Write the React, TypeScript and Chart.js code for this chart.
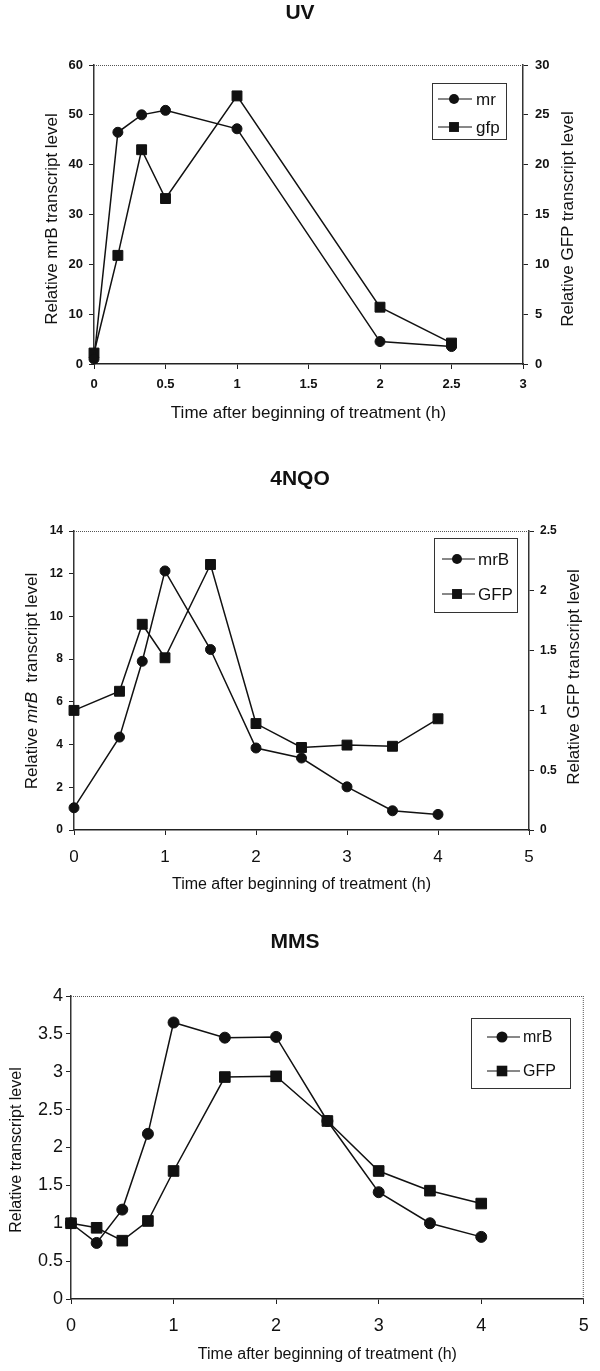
import { useEffect, useRef } from "react";
import { Chart, registerables } from "chart.js";

Chart.register(...registerables);

const FONT = '"Liberation Sans", Arial, Helvetica, sans-serif';
const INK = "#111";

// ---------- UV ----------
const uvTitle = "UV";
const uvTimes = [0, 0.167, 0.333, 0.5, 1, 2, 2.5];
const uvMr = [1.0, 46.5, 50.0, 50.9, 47.2, 4.5, 3.5];
const uvGfp = [1.1, 10.9, 21.5, 16.6, 26.9, 5.7, 2.1];
const uvLabels = ["mr", "gfp"];
const uvXTicks = [0, 0.5, 1, 1.5, 2, 2.5, 3];
const uvLeftTicks = [0, 10, 20, 30, 40, 50, 60];
const uvRightTicks = [0, 5, 10, 15, 20, 25, 30];
const uvLeftTitle = [{ text: "Relative mrB transcript level" }];
const uvRightTitle = [{ text: "Relative GFP transcript level" }];

// ---------- 4NQO ----------
const nqoTitle = "4NQO";
const nqoTimes = [0, 0.5, 0.75, 1, 1.5, 2, 2.5, 3, 3.5, 4];
const nqoMrb = [1.04, 4.35, 7.9, 12.13, 8.45, 3.84, 3.37, 2.02, 0.9, 0.73];
const nqoGfp = [1.0, 1.16, 1.72, 1.44, 2.22, 0.89, 0.69, 0.71, 0.7, 0.93];
const nqoLabels = ["mrB", "GFP"];
const nqoXTicks = [0, 1, 2, 3, 4, 5];
const nqoLeftTicks = [0, 2, 4, 6, 8, 10, 12, 14];
const nqoRightTicks = [0, 0.5, 1, 1.5, 2, 2.5];
const nqoLeftTitle = [
  { text: "Relative " },
  { text: "mrB", italic: true },
  { text: "  transcript level" },
];
const nqoRightTitle = [{ text: "Relative GFP transcript level" }];

// ---------- MMS ----------
const mmsTitle = "MMS";
const mmsTimes = [0, 0.25, 0.5, 0.75, 1, 1.5, 2, 2.5, 3, 3.5, 4];
const mmsMrb = [1.0, 0.74, 1.18, 2.18, 3.65, 3.45, 3.46, 2.35, 1.41, 1.0, 0.82];
const mmsGfp = [1.0, 0.94, 0.77, 1.03, 1.69, 2.93, 2.94, 2.35, 1.69, 1.43, 1.26];
const mmsLabels = ["mrB", "GFP"];
const mmsXTicks = [0, 1, 2, 3, 4, 5];
const mmsYTicks = [0, 0.5, 1, 1.5, 2, 2.5, 3, 3.5, 4];
const mmsLeftTitle = [{ text: "Relative transcript level" }];

const xTitleText = "Time after beginning of treatment (h)";

type Seg = { text: string; italic?: boolean };

const extrasPlugin = {
  id: "extras",
  afterDraw(chart: any, _args: any, opts: any) {
    const ctx: CanvasRenderingContext2D = chart.ctx;
    const ca = chart.chartArea;
    ctx.save();
    // dotted frame
    ctx.strokeStyle = "#555";
    ctx.lineWidth = 1;
    ctx.setLineDash([1, 1]);
    ctx.beginPath();
    if (opts.frameTop) {
      ctx.moveTo(ca.left, ca.top + 0.5);
      ctx.lineTo(ca.right, ca.top + 0.5);
    }
    if (opts.frameRight) {
      ctx.moveTo(ca.right - 0.5, ca.top);
      ctx.lineTo(ca.right - 0.5, ca.bottom);
    }
    ctx.stroke();
    ctx.setLineDash([]);

    // vertical titles (read bottom to top)
    for (const t of opts.yTitles || []) {
      ctx.save();
      ctx.translate(t.x, t.y);
      ctx.rotate(-Math.PI / 2);
      ctx.fillStyle = INK;
      ctx.textBaseline = "middle";
      ctx.textAlign = "left";
      const segs: Seg[] = t.segs;
      let total = 0;
      const widths = segs.map((s) => {
        ctx.font = `${s.italic ? "italic " : ""}${t.size}px ${FONT}`;
        const w = ctx.measureText(s.text).width;
        total += w;
        return w;
      });
      let x = -total / 2;
      segs.forEach((s, i) => {
        ctx.font = `${s.italic ? "italic " : ""}${t.size}px ${FONT}`;
        ctx.fillText(s.text, x, 0);
        x += widths[i];
      });
      ctx.restore();
    }

    // legend box
    const lg = opts.legend;
    if (lg) {
      ctx.fillStyle = "#fff";
      ctx.fillRect(lg.x, lg.y, lg.w, lg.h);
      ctx.strokeStyle = "#333";
      ctx.lineWidth = 1;
      ctx.strokeRect(lg.x + 0.5, lg.y + 0.5, lg.w, lg.h);
      chart.data.datasets.forEach((ds: any, i: number) => {
        const y = lg.rows[i];
        ctx.strokeStyle = ds.borderColor;
        ctx.lineWidth = 1;
        ctx.beginPath();
        ctx.moveTo(lg.lineX0, y);
        ctx.lineTo(lg.lineX1, y);
        ctx.stroke();
        ctx.fillStyle = ds.backgroundColor;
        ctx.beginPath();
        if (ds.pointStyle === "rect") {
          const h = ds.pointRadius * Math.SQRT1_2;
          ctx.rect(lg.markerX - h, y - h, 2 * h, 2 * h);
        } else {
          ctx.arc(lg.markerX, y, ds.pointRadius, 0, Math.PI * 2);
        }
        ctx.fill();
        ctx.fillStyle = INK;
        ctx.font = `${lg.size}px ${FONT}`;
        ctx.textBaseline = "middle";
        ctx.textAlign = "left";
        ctx.fillText(ds.label, lg.textX, y + 1);
      });
    }
    ctx.restore();
  },
};

function makeDataset(label: string, xs: number[], ys: number[], style: string, radius: number, axis: string) {
  return {
    label,
    data: xs.map((x, i) => ({ x, y: ys[i] })),
    borderColor: INK,
    backgroundColor: INK,
    borderWidth: 1.5,
    pointStyle: style,
    pointRadius: radius,
    pointBorderWidth: 1,
    pointBackgroundColor: INK,
    pointBorderColor: INK,
    tension: 0,
    clip: false,
    yAxisID: axis,
  };
}

function setTicks(values: number[]) {
  return (s: any) => {
    s.ticks = values.map((v) => ({ value: v }));
  };
}

function yAxis(opts: {
  position: string;
  max: number;
  ticks: number[];
  width: number;
  font: any;
  pad: number;
}) {
  return {
    type: "linear",
    position: opts.position,
    min: 0,
    max: opts.max,
    afterBuildTicks: setTicks(opts.ticks),
    afterFit: (s: any) => {
      s.width = opts.width;
    },
    ticks: {
      callback: (v: any) => String(v),
      font: opts.font,
      color: INK,
      padding: opts.pad,
    },
    grid: { drawOnChartArea: false, tickLength: 5, color: "#222", lineWidth: 1 },
    border: { color: "#333", width: 1.5, dash: [1.5, 1] },
  };
}

function xAxis(opts: {
  max: number;
  ticks: number[];
  height: number;
  font: any;
  pad: number;
  titleSize: number;
  titlePad: number;
}) {
  return {
    type: "linear",
    position: "bottom",
    min: 0,
    max: opts.max,
    afterBuildTicks: setTicks(opts.ticks),
    afterFit: (s: any) => {
      s.height = opts.height;
    },
    ticks: {
      callback: (v: any) => String(v),
      font: opts.font,
      color: INK,
      padding: opts.pad,
      maxRotation: 0,
      autoSkip: false,
    },
    grid: { drawOnChartArea: false, tickLength: 5, color: "#222", lineWidth: 1 },
    border: { color: "#222", width: 1.5 },
    title: {
      display: true,
      text: xTitleText,
      font: { size: opts.titleSize, family: FONT },
      color: INK,
      padding: { top: 0, bottom: opts.titlePad },
    },
  };
}

function titleOpts(text: string, size: number, top: number, bottom: number) {
  return {
    display: true,
    text,
    font: { size, weight: "bold", family: FONT },
    color: INK,
    padding: { top, bottom },
  };
}

const configs: any[] = [
  {
    top: 0,
    height: 430,
    config: {
      type: "line",
      data: {
        datasets: [
          makeDataset(uvLabels[0], uvTimes, uvMr, "circle", 5, "y"),
          makeDataset(uvLabels[1], uvTimes, uvGfp, "rect", 7, "y1"),
        ],
      },
      options: {
        responsive: false,
        animation: false,
        layout: { padding: 0 },
        scales: {
          x: xAxis({
            max: 3,
            ticks: uvXTicks,
            height: 66,
            font: { size: 13, weight: "bold", family: FONT },
            pad: 8,
            titleSize: 17,
            titlePad: 6.8,
          }),
          y: yAxis({ position: "left", max: 60, ticks: uvLeftTicks, width: 94, font: { size: 13, weight: "bold", family: FONT }, pad: 6 }),
          y1: yAxis({ position: "right", max: 30, ticks: uvRightTicks, width: 77, font: { size: 13, weight: "bold", family: FONT }, pad: 7 }),
        },
        plugins: {
          legend: { display: false },
          tooltip: { enabled: false },
          title: titleOpts(uvTitle, 21, 0.4, 39.4),
          extras: {
            frameTop: true,
            frameRight: false,
            yTitles: [
              { x: 52, y: 219, size: 17, segs: uvLeftTitle },
              { x: 568, y: 219, size: 17, segs: uvRightTitle },
            ],
            legend: { x: 432, y: 83, w: 74, h: 56, rows: [99, 127], lineX0: 438, lineX1: 472, markerX: 454, textX: 476, size: 17 },
          },
        },
      },
      plugins: [extrasPlugin],
    },
  },
  {
    top: 430,
    height: 475,
    config: {
      type: "line",
      data: {
        datasets: [
          makeDataset(nqoLabels[0], nqoTimes, nqoMrb, "circle", 5, "y"),
          makeDataset(nqoLabels[1], nqoTimes, nqoGfp, "rect", 7, "y1"),
        ],
      },
      options: {
        responsive: false,
        animation: false,
        layout: { padding: 0 },
        scales: {
          x: xAxis({
            max: 5,
            ticks: nqoXTicks,
            height: 75,
            font: { size: 17, family: FONT },
            pad: 11.8,
            titleSize: 16,
            titlePad: 10.4,
          }),
          y: yAxis({ position: "left", max: 14, ticks: nqoLeftTicks, width: 74, font: { size: 12, weight: "bold", family: FONT }, pad: 6 }),
          y1: yAxis({ position: "right", max: 2.5, ticks: nqoRightTicks, width: 71, font: { size: 12, weight: "bold", family: FONT }, pad: 6 }),
        },
        plugins: {
          legend: { display: false },
          tooltip: { enabled: false },
          title: titleOpts(nqoTitle, 21, 36.4, 39.4),
          extras: {
            frameTop: true,
            frameRight: false,
            yTitles: [
              { x: 32, y: 251, size: 17, segs: nqoLeftTitle },
              { x: 574, y: 247, size: 17, segs: nqoRightTitle },
            ],
            legend: { x: 434, y: 108, w: 83, h: 74, rows: [129, 164], lineX0: 442, lineX1: 475, markerX: 457, textX: 478, size: 17 },
          },
        },
      },
      plugins: [extrasPlugin],
    },
  },
  {
    top: 905,
    height: 466,
    config: {
      type: "line",
      data: {
        datasets: [
          makeDataset(mmsLabels[0], mmsTimes, mmsMrb, "circle", 5.5, "y"),
          makeDataset(mmsLabels[1], mmsTimes, mmsGfp, "rect", 7.5, "y"),
        ],
      },
      options: {
        responsive: false,
        animation: false,
        layout: { padding: { right: 10 } },
        scales: {
          x: xAxis({
            max: 5,
            ticks: mmsXTicks,
            height: 72,
            font: { size: 18, family: FONT },
            pad: 11.2,
            titleSize: 16,
            titlePad: 6.4,
          }),
          y: yAxis({ position: "left", max: 4, ticks: mmsYTicks, width: 71, font: { size: 18, family: FONT }, pad: 3 }),
        },
        plugins: {
          legend: { display: false },
          tooltip: { enabled: false },
          title: titleOpts(mmsTitle, 21, 24.4, 41.4),
          extras: {
            frameTop: true,
            frameRight: true,
            yTitles: [{ x: 17, y: 245, size: 16, segs: mmsLeftTitle }],
            legend: { x: 471, y: 113, w: 99, h: 70, rows: [132, 166], lineX0: 487, lineX1: 520, markerX: 502, textX: 523, size: 16 },
          },
        },
      },
      plugins: [extrasPlugin],
    },
  },
];

function ChartCanvas({ top, height, config }: { top: number; height: number; config: any }) {
  const ref = useRef<HTMLCanvasElement | null>(null);
  useEffect(() => {
    if (!ref.current) return;
    const chart = new Chart(ref.current, config);
    return () => chart.destroy();
  }, [config]);
  return (
    <canvas
      ref={ref}
      width={600}
      height={height}
      style={{ position: "absolute", left: 0, top, width: 600, height, display: "block" }}
    />
  );
}

export default function App() {
  return (
    <div style={{ position: "absolute", left: 0, top: 0, width: 600, height: 1371, background: "#fff" }}>
      {configs.map((c, i) => (
        <ChartCanvas key={i} top={c.top} height={c.height} config={c.config} />
      ))}
    </div>
  );
}
